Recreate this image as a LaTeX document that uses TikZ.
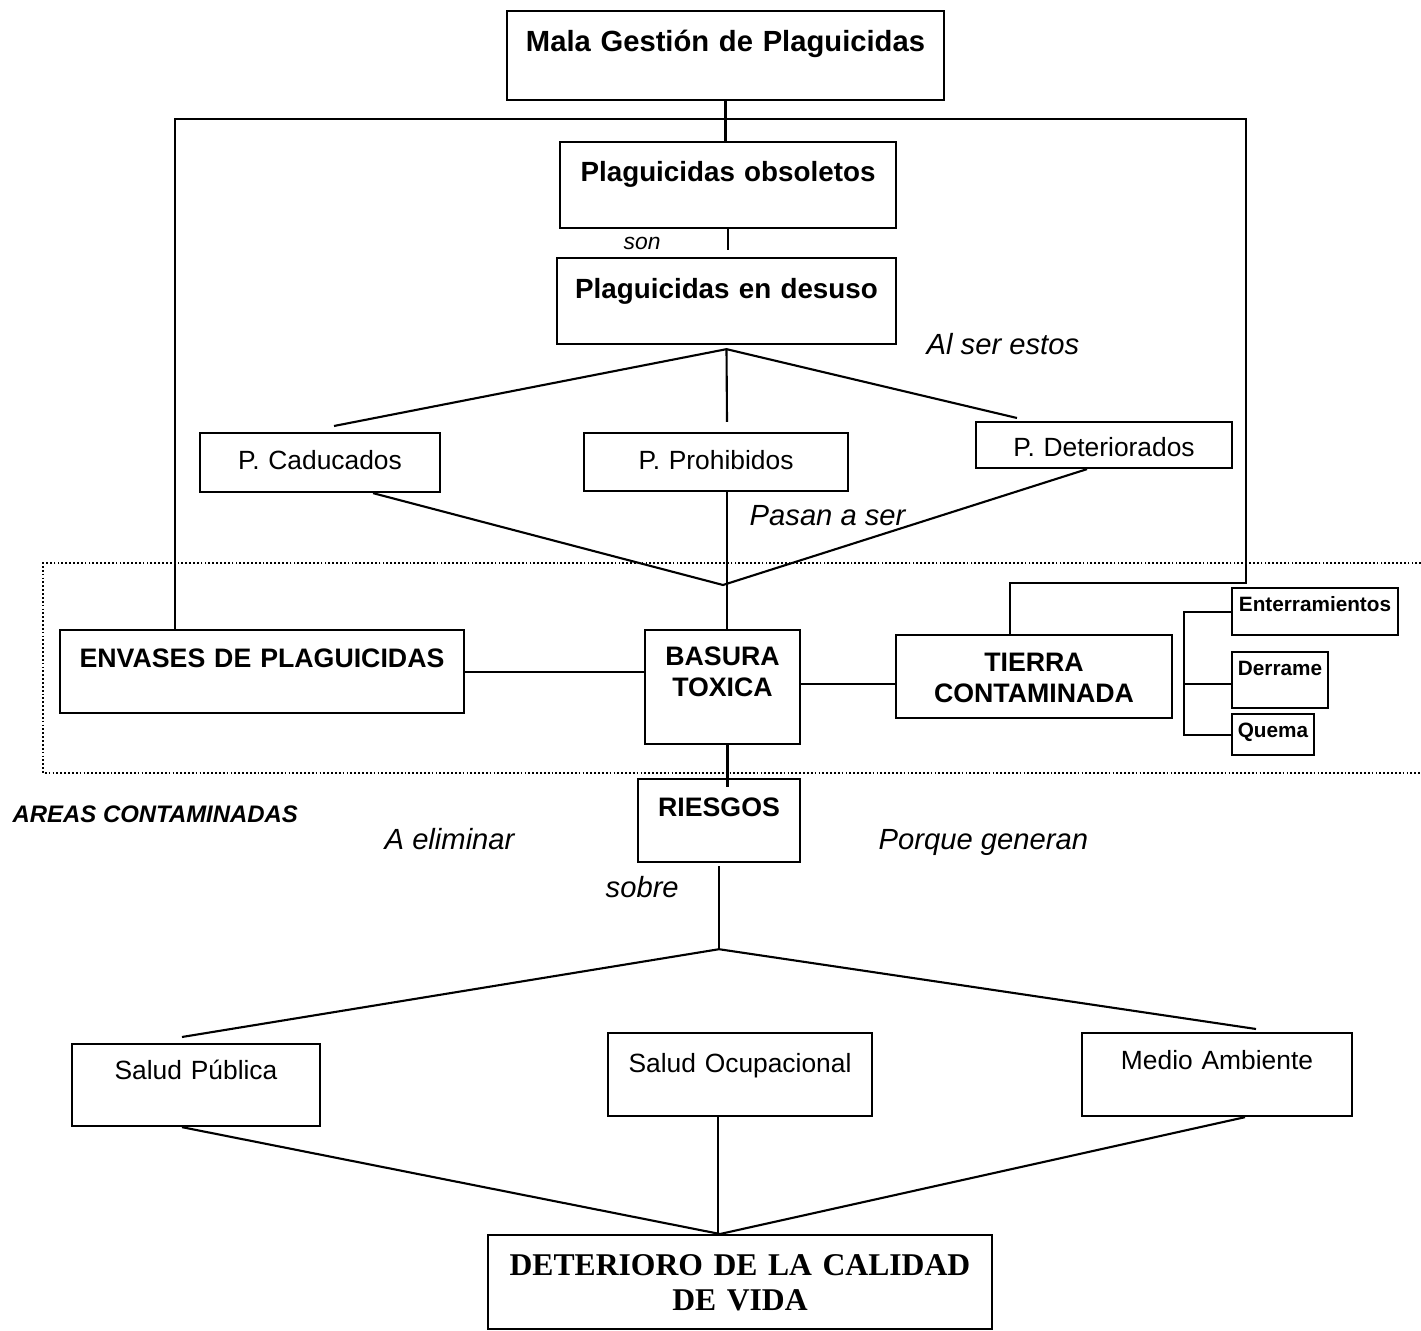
\documentclass[tikz,border=0pt]{standalone}
\usepackage{fontspec}
\setmainfont{Liberation Sans}
\newfontfamily\timesfont{Liberation Serif}
\usepackage{tikz}

\begin{document}
\begin{tikzpicture}[x=0.01cm,y=-0.01cm,
    caja/.style={draw,line width=0.6pt,inner sep=0pt,align=center,anchor=north},
    grande/.style={font=\bfseries\fontsize{8.3}{10}\selectfont},
    tit/.style={font=\bfseries\fontsize{7.9}{9.5}\selectfont},
    mayus/.style={font=\bfseries\fontsize{7.6}{8.8}\selectfont},
    chica/.style={font=\bfseries\fontsize{5.9}{7}\selectfont},
    texto/.style={font=\fontsize{7.5}{9}\selectfont},
    final/.style={font=\timesfont\bfseries\fontsize{9}{10.2}\selectfont},
    etiq/.style={anchor=base west,inner sep=0pt,font=\itshape\fontsize{8.3}{10}\selectfont},
    linea/.style={line width=0.6pt},
    punteado/.style={line width=0.4pt,dash pattern=on 0.5pt off 0.6pt}]
            \useasboundingbox (0,0) rectangle (1421,1331);
            % cajas
            \node[caja,grande,text width=4.37cm,text height=0.40cm,text depth=0.49cm] (mala) at (725.5,10) {Mala Gestión de Plaguicidas};
            \node[caja,tit,text width=3.36cm,text height=0.39cm,text depth=0.47cm] (obsoletos) at (728,141) {Plaguicidas obsoletos};
            \node[caja,tit,text width=3.39cm,text height=0.40cm,text depth=0.46cm] (desuso) at (726.5,257) {Plaguicidas en desuso};
            \node[caja,texto,text width=2.40cm,text height=0.36cm,text depth=0.23cm] (caducados) at (320,432) {P. Caducados};
            \node[caja,texto,text width=2.64cm,text height=0.36cm,text depth=0.22cm] (prohibidos) at (716,432) {P. Prohibidos};
            \node[caja,texto,text width=2.56cm,text height=0.34cm,text depth=0.12cm] (deteriorados) at (1104,421) {P. Deteriorados};
            \node[caja,mayus,text width=4.04cm,text height=0.37cm,text depth=0.46cm] (envases) at (262,629) {ENVASES DE PLAGUICIDAS};
            \node[caja,mayus,text width=1.55cm,text height=0.35cm,text depth=0.79cm] (basura) at (722.5,629) {BASURA\\TOXICA};
            \node[caja,mayus,text width=2.76cm,text height=0.36cm,text depth=0.47cm] (tierra) at (1034,634) {TIERRA\\CONTAMINADA};
            \node[caja,chica,text width=1.66cm,text height=0.23cm,text depth=0.24cm] (enterramientos) at (1315,587) {Enterramientos};
            \node[caja,chica,text width=0.96cm,text height=0.23cm,text depth=0.33cm] (derrame) at (1280,651) {Derrame};
            \node[caja,chica,text width=0.82cm,text height=0.23cm,text depth=0.18cm] (quema) at (1273,713) {Quema};
            \node[caja,mayus,text width=1.62cm,text height=0.37cm,text depth=0.46cm] (riesgos) at (719,778) {RIESGOS};
            \node[caja,texto,text width=2.48cm,text height=0.35cm,text depth=0.47cm] (publica) at (196,1043) {Salud Pública};
            \node[caja,texto,text width=2.64cm,text height=0.39cm,text depth=0.44cm] (ocupacional) at (740,1032) {Salud Ocupacional};
            \node[caja,texto,text width=2.70cm,text height=0.36cm,text depth=0.47cm] (medio) at (1217,1032) {Medio Ambiente};
            \node[caja,final,text width=5.04cm,text height=0.40cm,text depth=0.54cm] (deterioro) at (740,1234) {DETERIORO DE LA CALIDAD\\DE VIDA};
            % textos sueltos
            \node[etiq,font=\itshape\fontsize{6.5}{8}\selectfont] (son) at (623,250) {son};
            \node[etiq] (alser) at (926,355) {Al ser estos};
            \node[etiq] (pasan) at (749,526) {Pasan a ser};
            \node[etiq,font=\bfseries\itshape\fontsize{6.8}{8}\selectfont] (areas) at (12,823) {AREAS CONTAMINADAS};
            \node[etiq] (eliminar) at (384,850) {A eliminar};
            \node[etiq] (generan) at (878,850) {Porque generan};
            \node[etiq] (sobre) at (605,897) {sobre};
            % puntos de union
            \coordinate (bus) at (1246,119);
            \coordinate (codo) at (1246,583);
            \coordinate (a1) at ([yshift=-0.04cm]desuso.south);
            \coordinate (a2) at (723,585);
            \coordinate (a3) at ([yshift=-0.86cm]riesgos.south);
            \coordinate (a4) at ([xshift=-0.2cm]deterioro.north);
            \coordinate (llave) at (quema.west -| 1184,0);
            \coordinate (cadarriba) at ([xshift=0.14cm,yshift=0.06cm]caducados.north);
            \coordinate (proarriba) at ([xshift=0.11cm,yshift=0.10cm]prohibidos.north);
            \coordinate (detarriba) at ([xshift=-0.87cm,yshift=0.03cm]deteriorados.north);
            \coordinate (pubarriba) at ([xshift=-0.14cm,yshift=0.06cm]publica.north);
            \coordinate (medarriba) at ([xshift=0.39cm,yshift=0.03cm]medio.north);
            % lineas
            \draw[linea] (mala.south) -- (mala.south |- obsoletos.north);
            \draw[linea] (obsoletos.south) -- ([yshift=0.07cm]obsoletos.south |- desuso.north);
            \draw[linea] ([xshift=-0.87cm]envases.north) |- (bus) -- (codo) -| ([xshift=-0.24cm]tierra.north);
            \draw[linea] (cadarriba) -- (a1) -- (detarriba);
            \draw[linea] (a1) -- (proarriba);
            \draw[linea] ([xshift=0.53cm]caducados.south) -- (a2) -- ([xshift=-0.17cm]deteriorados.south);
            \draw[linea] ([xshift=0.11cm]prohibidos.south) -- ([xshift=0.11cm]prohibidos.south |- basura.north);
            \draw[linea] (envases.east) -- (envases.east -| basura.west);
            \draw[linea] ([yshift=0.03cm]basura.east) -- ([yshift=0.03cm]basura.east -| tierra.west);
            \draw[linea] (enterramientos.west) -| (llave) -- (quema.west);
            \draw[linea] ([yshift=-0.04cm]derrame.west) -- ([yshift=-0.04cm]derrame.west -| llave);
            \draw[linea] ([xshift=0.05cm]basura.south) -- ([xshift=0.05cm,yshift=-0.09cm]basura.south |- riesgos.north);
            \draw[linea] ([yshift=-0.03cm]riesgos.south) -- (a3);
            \draw[linea] (pubarriba) -- (a3) -- (medarriba);
            \draw[linea] ([xshift=-0.14cm]publica.south) -- (a4) -- ([xshift=0.28cm]medio.south);
            \draw[linea] ([xshift=-0.22cm]ocupacional.south) -- ([xshift=-0.22cm]ocupacional.south |- deterioro.north);
            \draw[punteado] (1421,563) -| (43,773) -- (1421,773);
        \end{tikzpicture}
\end{document}
